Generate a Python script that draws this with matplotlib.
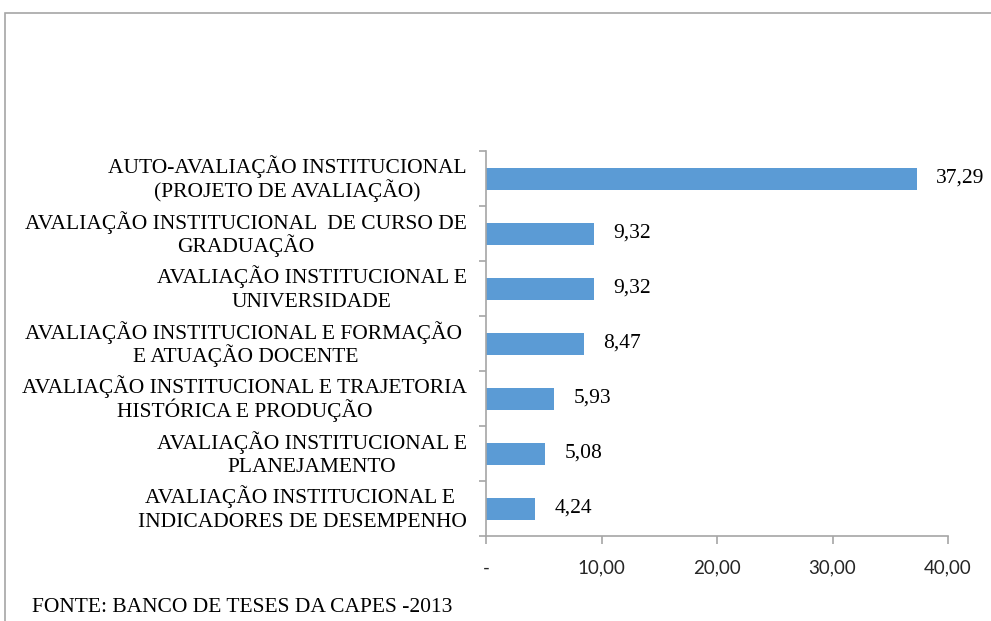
import matplotlib
matplotlib.use("Agg")
import matplotlib.pyplot as plt
from matplotlib.patches import Rectangle
from matplotlib.transforms import blended_transform_factory, offset_copy

categories = [
    "AUTO-AVALIAÇÃO INSTITUCIONAL\n(PROJETO DE AVALIAÇÃO)",
    "AVALIAÇÃO INSTITUCIONAL  DE CURSO DE\nGRADUAÇÃO",
    "AVALIAÇÃO INSTITUCIONAL E\nUNIVERSIDADE",
    "AVALIAÇÃO INSTITUCIONAL E FORMAÇÃO \nE ATUAÇÃO DOCENTE",
    "AVALIAÇÃO INSTITUCIONAL E TRAJETORIA\nHISTÓRICA E PRODUÇÃO",
    "AVALIAÇÃO INSTITUCIONAL E\nPLANEJAMENTO",
    "AVALIAÇÃO INSTITUCIONAL E \nINDICADORES DE DESEMPENHO",
]
values = [37.29, 9.32, 9.32, 8.47, 5.93, 5.08, 4.24]
xticks = [0, 10, 20, 30, 40]
xticklabels = ["-", "10,00", "20,00", "30,00", "40,00"]
source = "FONTE: BANCO DE TESES DA CAPES -2013"

W, H = 991, 621
fig = plt.figure(figsize=(W / 100, H / 100), dpi=100)
fig.patches.append(Rectangle((5 / W, -0.01), 1.1, 1 - 13 / H + 0.01,
                             transform=fig.transFigure, fill=False,
                             edgecolor="#a6a6a6", linewidth=1.2))

ax = fig.add_axes([486 / W, 1 - 536 / H, (948 - 486) / W, (536 - 151) / H])
ypos = list(range(len(values)))
ax.barh(ypos, values, height=0.4, color="#5b9bd5")
ax.set_ylim(len(values) - 0.5, -0.5)
ax.set_xlim(0, 40)
ax.set_yticks([i + 0.5 for i in range(-1, len(values))])
ax.set_yticklabels([])
ax.tick_params(axis="y", length=5, color="#a6a6a6", width=1.2)

# category labels: right-aligned block, lines centred within block, fixed pitch
renderer = fig.canvas.get_renderer()
base = blended_transform_factory(ax.transAxes, ax.transData)
font = dict(family="Liberation Serif", fontsize=15.5)
gap = 19
pitch = 23.5
for y, lab in zip(ypos, categories):
    lines = lab.split("\n")
    widths = []
    for ln in lines:
        t = fig.text(0, 0, ln, **font)
        widths.append(t.get_window_extent(renderer).width)
        t.remove()
    block_w = max(widths)
    n = len(lines)
    for i, ln in enumerate(lines):
        dy = 5 - (i - (n - 2) / 2 if n > 1 else 0) * pitch if n > 1 else -6
        tr = offset_copy(base, fig=fig, x=-gap - block_w / 2, y=dy, units="dots")
        ax.text(0, y, ln, transform=tr, ha="center", va="baseline", **font)

ax.set_xticks(xticks)
ax.set_xticklabels(xticklabels, family="Lato", fontsize=13.5, color="#262626")
ax.tick_params(axis="x", length=6, color="#a6a6a6", width=1.2, pad=11)
for s in ["top", "right"]:
    ax.spines[s].set_visible(False)
for s in ["left", "bottom"]:
    ax.spines[s].set_color("#a6a6a6")
    ax.spines[s].set_linewidth(1.2)

for y, v in zip(ypos, values):
    ax.text(v + 1.7, y, f"{v:.2f}".replace(".", ","), va="center", ha="left",
            family="Liberation Serif", fontsize=15.5, color="#000000", clip_on=False)

fig.text(32 / W, 1 - 612 / H, source, family="Liberation Serif", fontsize=15.5,
         ha="left", va="baseline")

fig.savefig("out.png", dpi=100)
